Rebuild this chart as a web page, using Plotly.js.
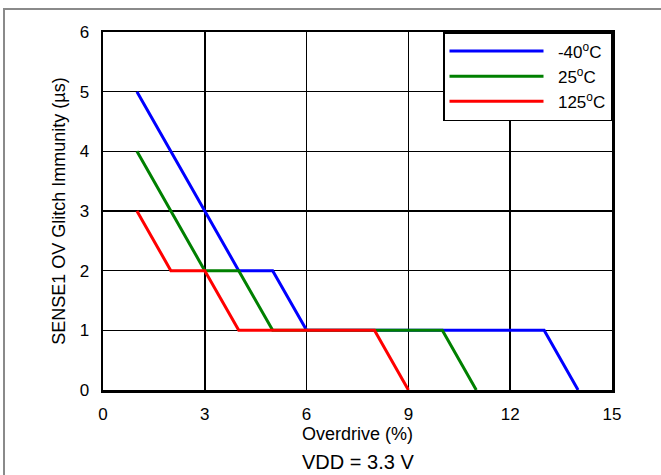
<!DOCTYPE html>
<html>
<head>
<meta charset="utf-8">
<script src="https://cdn.plot.ly/plotly-3.0.1.min.js"></script>
<style>
  html, body { margin: 0; padding: 0; background: #fff; }
  #frame { position: absolute; left: 3px; top: 8px; width: 700px; height: 500px;
           border-top: 2px solid #8a8a8a; border-left: 2px solid #8a8a8a; pointer-events: none; z-index: 5; }
  #chart { position: absolute; left: 0; top: 0; width: 661px; height: 475px; }
</style>
</head>
<body>
<div id="chart"></div>
<div id="frame"></div>
<script>
// Overdrive (%) values for each temperature
const xM40 = [1, 4, 5, 6, 13, 14];
const yM40 = [5, 2, 2, 1, 1, 0];
const x25 = [1, 3, 4, 5, 10, 11];
const y25 = [4, 2, 2, 1, 1, 0];
const x125 = [1, 2, 3, 4, 8, 9];
const y125 = [3, 2, 2, 1, 1, 0];
const seriesNames = ['\u00a0\u00a0-40<sup>o</sup>C', '\u00a0\u00a025<sup>o</sup>C', '\u00a0\u00a0125<sup>o</sup>C'];
const xTicks = [0, 3, 6, 9, 12, 15];
const yTicks = [0, 1, 2, 3, 4, 5, 6];

const font = 'Liberation Sans, Arial, sans-serif';
const traces = [
  {x: xM40, y: yM40, name: seriesNames[0], mode: 'lines', line: {color: '#0000ff', width: 3}},
  {x: x25, y: y25, name: seriesNames[1], mode: 'lines', line: {color: '#008000', width: 3}},
  {x: x125, y: y125, name: seriesNames[2], mode: 'lines', line: {color: '#ff0000', width: 3}}
];

const layout = {
  width: 661, height: 475,
  margin: {l: 103, r: 49, t: 32, b: 85},
  paper_bgcolor: '#fff', plot_bgcolor: '#fff',
  font: {family: font, color: '#000', size: 14},
  showlegend: true,
  legend: {
    x: 1, xanchor: 'right', y: 1, yanchor: 'top',
    bgcolor: '#fff', bordercolor: '#000', borderwidth: 1.5,
    font: {family: font, size: 17, color: '#000'},
    itemwidth: 94, tracegroupgap: 0
  },
  xaxis: {
    range: [0, 15], tickvals: xTicks, ticktext: xTicks.map(String),
    showgrid: true, gridcolor: '#000', gridwidth: 1.5,
    showline: true, linecolor: '#000', linewidth: 2.5, mirror: true,
    zeroline: false, ticks: '', ticklen: 0, ticklabelstandoff: 7,
    tickfont: {size: 17, family: font},
    title: {text: 'Overdrive (%)', font: {size: 18, family: font}, standoff: 0},
    automargin: false
  },
  yaxis: {
    range: [0, 6], tickvals: yTicks, ticktext: yTicks.map(String),
    showgrid: true, gridcolor: '#000', gridwidth: 1.5,
    showline: true, linecolor: '#000', linewidth: 2.5, mirror: true,
    zeroline: false, ticks: '', ticklen: 0, ticklabelstandoff: 8,
    tickfont: {size: 17, family: font},
    title: {text: 'SENSE1 OV Glitch Immunity (µs)', font: {size: 18, family: font}, standoff: 10},
    automargin: false
  },
  annotations: [{
    text: 'VDD = 3.3 V', xref: 'paper', yref: 'paper', x: 0.5, y: -0.2,
    xanchor: 'center', yanchor: 'middle', showarrow: false,
    font: {size: 20, family: font, color: '#000'}
  }]
};

Plotly.newPlot('chart', traces, layout, {displayModeBar: false, staticPlot: true});
</script>
</body>
</html>
